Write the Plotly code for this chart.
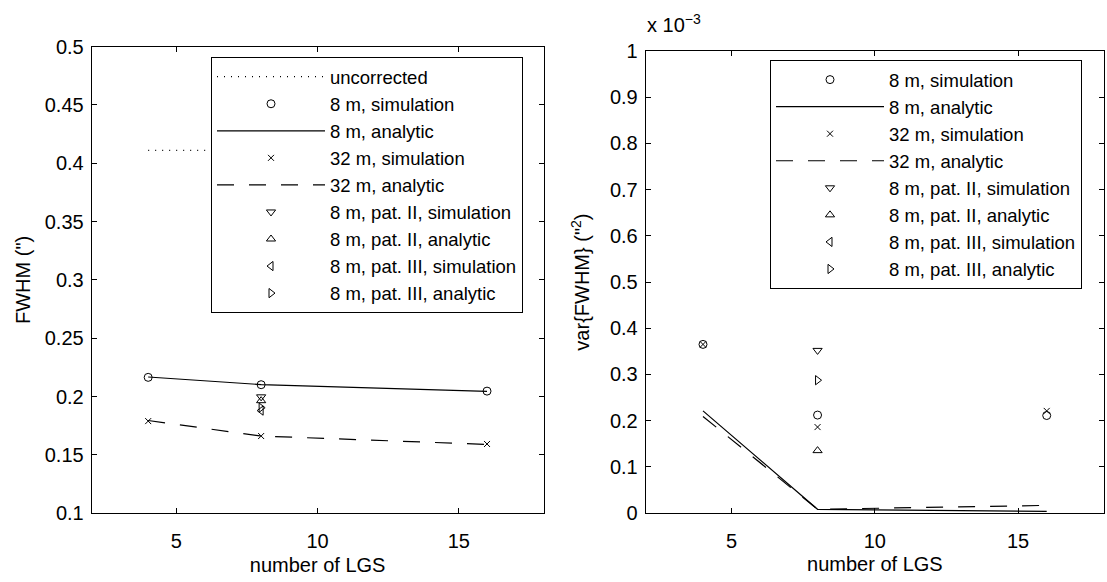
import plotly.graph_objects as go

# ---------------- data ----------------
lgs = [4, 8, 16]
lgs_pat = [8]

# left panel: FWHM (arcsec)
fwhm_uncorrected = [0.411, 0.411, 0.411]
fwhm_8m_sim = [0.2165, 0.2102, 0.2047]
fwhm_8m_ana = [0.2168, 0.2103, 0.2045]
fwhm_32m_sim = [0.1790, 0.1662, 0.1594]
fwhm_32m_ana = [0.1795, 0.1662, 0.1590]
fwhm_pat2_sim = [0.1998]
fwhm_pat2_ana = [0.1965]
fwhm_pat3_sim = [0.1880]
fwhm_pat3_ana = [0.1905]

# right panel: var{FWHM} in units of 1e-3 arcsec^2
var_8m_sim = [0.365, 0.212, 0.211]
var_8m_ana = [0.221, 0.008, 0.0035]
var_32m_sim = [0.365, 0.186, 0.221]
var_32m_ana = [0.209, 0.008, 0.0165]
var_pat2_sim = [0.352]
var_pat2_ana = [0.135]
var_pat3_sim = [None]
var_pat3_ana = [0.2875]

x_ticks = [5, 10, 15]
fwhm_ticks = [0.1, 0.15, 0.2, 0.25, 0.3, 0.35, 0.4, 0.45, 0.5]
var_ticks = [0, 0.1, 0.2, 0.3, 0.4, 0.5, 0.6, 0.7, 0.8, 0.9, 1]

FONT = "Liberation Sans, Arial, sans-serif"
FS = 20
LFS = 18.5
BLACK = "black"

fig = go.Figure()

def add(x, y, name, xa, ya, leg, mode, symbol=None, dash=None, size=8):
    kw = dict(x=x, y=y, name=name, mode=mode, xaxis=xa, yaxis=ya, legend=leg,
              showlegend=True, cliponaxis=False)
    if "markers" in mode:
        kw["marker"] = dict(symbol=symbol, size=size, color=BLACK,
                            line=dict(color=BLACK, width=1))
    if "lines" in mode:
        kw["line"] = dict(color=BLACK, width=1.2, dash=dash)
    fig.add_trace(go.Scatter(**kw))

# left panel traces
add(lgs, fwhm_uncorrected, "uncorrected", "x", "y", "legend", "lines", dash="1px,6px")
add(lgs, fwhm_8m_sim, "8 m, simulation", "x", "y", "legend", "markers", "circle-open", size=8)
add(lgs, fwhm_8m_ana, "8 m, analytic", "x", "y", "legend", "lines", dash="solid")
add(lgs, fwhm_32m_sim, "32 m, simulation", "x", "y", "legend", "markers", "x-thin-open", size=6)
add(lgs, fwhm_32m_ana, "32 m, analytic", "x", "y", "legend", "lines", dash="17px,15px")
add(lgs_pat, fwhm_pat2_sim, "8 m, pat. II, simulation", "x", "y", "legend", "markers", "triangle-down-open", size=8)
add(lgs_pat, fwhm_pat2_ana, "8 m, pat. II, analytic", "x", "y", "legend", "markers", "triangle-up-open", size=8)
add(lgs_pat, fwhm_pat3_sim, "8 m, pat. III, simulation", "x", "y", "legend", "markers", "triangle-left-open", size=8)
add(lgs_pat, fwhm_pat3_ana, "8 m, pat. III, analytic", "x", "y", "legend", "markers", "triangle-right-open", size=8)

# right panel traces
add(lgs, var_8m_sim, "8 m, simulation", "x2", "y2", "legend2", "markers", "circle-open", size=8)
add(lgs, var_8m_ana, "8 m, analytic", "x2", "y2", "legend2", "lines", dash="solid")
add(lgs, var_32m_sim, "32 m, simulation", "x2", "y2", "legend2", "markers", "x-thin-open", size=6)
add(lgs, var_32m_ana, "32 m, analytic", "x2", "y2", "legend2", "lines", dash="17px,15px")
add(lgs_pat, var_pat2_sim, "8 m, pat. II, simulation", "x2", "y2", "legend2", "markers", "triangle-down-open", size=8)
add(lgs_pat, var_pat2_ana, "8 m, pat. II, analytic", "x2", "y2", "legend2", "markers", "triangle-up-open", size=8)
add(lgs_pat, var_pat3_sim, "8 m, pat. III, simulation", "x2", "y2", "legend2", "markers", "triangle-left-open", size=8)
add(lgs_pat, var_pat3_ana, "8 m, pat. III, analytic", "x2", "y2", "legend2", "markers", "triangle-right-open", size=8)

W, H = 1107, 582

def axis_common():
    return dict(showline=True, linecolor=BLACK, linewidth=1, mirror="allticks",
                ticks="inside", ticklen=5, tickwidth=1, tickcolor=BLACK,
                showgrid=False, zeroline=False,
                tickfont=dict(family=FONT, size=FS, color=BLACK),
                title_font=dict(family=FONT, size=FS, color=BLACK))

xa = axis_common()
xa.update(domain=[91.7 / W, 543.5 / W], range=[2, 18], tickvals=x_ticks,
          anchor="y", ticklabelstandoff=10, title=dict(text="number of LGS", standoff=6))
ya = axis_common()
ya.update(domain=[1 - 522 / H, 1 - 37 / H], range=[0.1, 0.5], tickvals=fwhm_ticks,
          anchor="x", ticklabelstandoff=3, title=dict(text="FWHM (\")", standoff=8))
xa2 = axis_common()
xa2.update(domain=[645.7 / W, 1104 / W], range=[2, 18], tickvals=x_ticks,
           anchor="y2", ticklabelstandoff=10, title=dict(text="number of LGS", standoff=6))
ya2 = axis_common()
ya2.update(domain=[1 - 521.7 / H, 1 - 41.7 / H], range=[0, 1], tickvals=var_ticks,
           anchor="x2", ticklabelstandoff=3, title=dict(text="var{FWHM} (\"<sup>2</sup>)", standoff=14))

legend_style = dict(bgcolor="white", bordercolor=BLACK, borderwidth=1,
                    font=dict(family=FONT, size=LFS, color=BLACK),
                    itemwidth=108, tracegroupgap=0, xanchor="left", yanchor="top")

fig.update_layout(
    width=W, height=H,
    margin=dict(l=0, r=0, t=0, b=0),
    paper_bgcolor="white", plot_bgcolor="white",
    font=dict(family=FONT, size=FS, color=BLACK),
    xaxis=xa, yaxis=ya, xaxis2=xa2, yaxis2=ya2,
    legend=dict(x=211 / W, y=1 - 48 / H, **legend_style),
    legend2=dict(x=770 / W, y=1 - 51 / H, **legend_style),
    annotations=[dict(text="x 10<sup>−3</sup>", xref="paper", yref="paper",
                      x=645 / W, y=1 - 13 / H, xanchor="left", yanchor="middle",
                      showarrow=False, font=dict(family=FONT, size=FS, color=BLACK))],
)

fig.write_html("out.html")
